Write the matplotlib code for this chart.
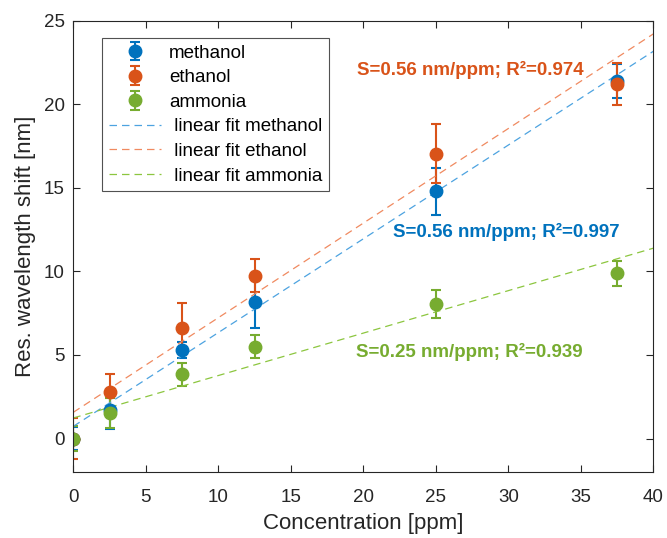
import matplotlib
matplotlib.use("Agg")
import matplotlib.pyplot as plt
import numpy as np

plt.rcParams['font.family'] = ['Liberation Sans', 'DejaVu Sans']

conc = [0, 2.5, 7.5, 12.5, 25, 37.5]
methanol = [0.0, 1.7, 5.3, 8.2, 14.8, 21.4]
methanol_err = [0.7, 1.1, 0.5, 1.6, 1.4, 1.0]
ethanol = [0.0, 2.8, 6.6, 9.75, 17.05, 21.2]
ethanol_err = [1.25, 1.05, 1.5, 1.0, 1.75, 1.25]
ammonia = [0.0, 1.55, 3.85, 5.5, 8.05, 9.9]
ammonia_err = [0.75, 0.9, 0.7, 0.7, 0.85, 0.75]

fit_slope = {'methanol': 0.561, 'ethanol': 0.566, 'ammonia': 0.254}
fit_icpt = {'methanol': 0.73, 'ethanol': 1.57, 'ammonia': 1.23}
annotations = ["S=0.56 nm/ppm; R²=0.974", "S=0.56 nm/ppm; R²=0.997", "S=0.25 nm/ppm; R²=0.939"]

c_blue, c_orange, c_green = '#0072BD', '#D95319', '#77AC30'
fit_colors = {'methanol': '#4DA3E0', 'ethanol': '#F08A60', 'ammonia': '#8CC63F'}
axc = '#262626'

fig = plt.figure(figsize=(6.67, 5.38), dpi=100)
ax = fig.add_axes([0.1099, 0.1227, 0.8696, 0.8388])

ekw = dict(fmt='o', markersize=9, elinewidth=1.5, capsize=3.8, capthick=1.5)
h1 = ax.errorbar(conc, methanol, yerr=methanol_err, color=c_blue, label='methanol', **ekw)
h2 = ax.errorbar(conc, ethanol, yerr=ethanol_err, color=c_orange, label='ethanol', **ekw)
h3 = ax.errorbar(conc, ammonia, yerr=ammonia_err, color=c_green, label='ammonia', **ekw)

xf = np.array([0, 40])
fit_handles = []
for name in ['methanol', 'ethanol', 'ammonia']:
    l, = ax.plot(xf, fit_slope[name] * xf + fit_icpt[name], ls=(0, (6, 4)), lw=0.9,
                 color=fit_colors[name], label=' linear fit ' + name)
    fit_handles.append(l)

tkw = dict(fontsize=13.5, fontweight='bold', va='center')
ax.text(19.55, 22.06, annotations[0], color=c_orange, **tkw)
ax.text(22.08, 12.36, annotations[1], color=c_blue, **tkw)
ax.text(19.47, 5.18, annotations[2], color=c_green, **tkw)

ax.set_xlim(0, 40)
ax.set_ylim(-2, 25)
ax.set_xticks(np.arange(0, 41, 5))
ax.set_yticks(np.arange(0, 26, 5))
ax.tick_params(direction='in', top=True, right=True, labelsize=13.5, colors=axc, length=5, width=0.8)
ax.tick_params(axis='x', pad=12)
ax.tick_params(axis='y', pad=6)
for s in ax.spines.values():
    s.set_color(axc)
    s.set_linewidth(0.8)
ax.set_xlabel('Concentration [ppm]', fontsize=16, color=axc, labelpad=5)
ax.set_ylabel('Res. wavelength shift [nm]', fontsize=16, color=axc, labelpad=6)

handles = [h1, h2, h3] + fit_handles
labels = [h.get_label() for h in handles]
leg = ax.legend(handles, labels, loc='upper left', bbox_to_anchor=(0.05, 0.962), fontsize=13.5,
                frameon=True, fancybox=False, edgecolor=axc, handlelength=2.8, labelspacing=0.4,
                borderpad=0.35, handletextpad=0.4, borderaxespad=0)
leg.get_frame().set_linewidth(0.8)

fig.savefig('out.png', dpi=100)
